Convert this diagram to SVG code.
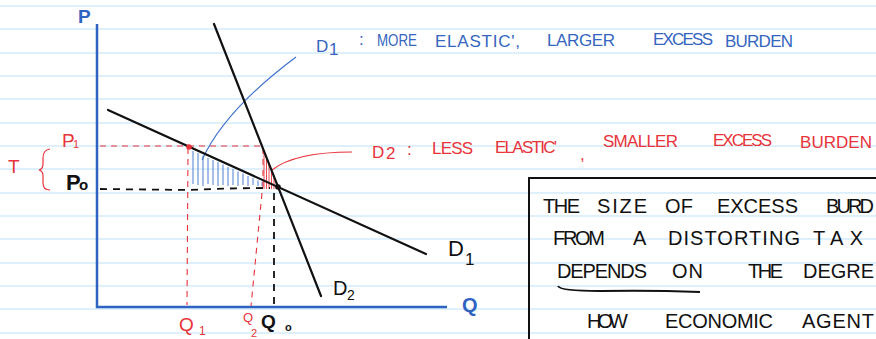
<svg xmlns="http://www.w3.org/2000/svg" width="876" height="339" viewBox="0 0 876 339">
<style>
.rule{stroke:#d3ecfa;stroke-width:1.5}
.axis{stroke:#2e63c2;stroke-width:2.5;fill:none}
.dem{stroke:#111;stroke-width:2.2;fill:none;stroke-linecap:round}
.rd{stroke:#e8333a;stroke-width:1.1;fill:none;stroke-dasharray:6 5}
.bd{stroke:#111;stroke-width:1.8;fill:none;stroke-dasharray:7 6}
.bh{stroke:#4a7fd0;stroke-width:1;fill:none}
.rh{stroke:#e8333a;stroke-width:0.9;fill:none}
.t{font-family:"Liberation Sans",Arial,sans-serif}
.blue{fill:#3565c0;font-size:17px}
.red{fill:#e8333a;font-size:17px}
.blk{fill:#111;font-size:20px}
</style>
<rect width="876" height="339" fill="#fff"/>
<g id="paper">
<path class="rule" d="M0,6H876M0,29H876M0,53H876M0,76H876M0,99H876M0,123H876M0,146H876M0,169H876M0,193H876M0,216H876M0,239H876M0,263H876M0,286H876M0,309H876M0,333H876"/>
</g>
<g id="axes">
<path class="axis" d="M97,24V307H447"/>
<text class="t" x="78" y="23" font-size="19" font-weight="bold" fill="#2e63c2">P</text>
<text class="t" x="462" y="312" font-size="20" font-weight="bold" fill="#2e63c2">Q</text>
</g>
<g id="hatching">
<path class="bh" d="M193,151V184M198,153V185M203,155.5V186M208,158V184M213,160V185M218,162V186M223,164.5V185M228,167V186M233,169V185M238,171.5V186M243,173.5V185M248,176V186M253,178V185M258,180.5V186M262,182V186"/>
<path class="rh" d="M264,151V189M266.5,157V189M269,163V189M271.5,170V189M274,176V189M276.5,182V189"/>
</g>
<g id="connectors">
<path class="rd" d="M100,146H263V190"/>
<path class="rd" d="M188,148L187,305" stroke-dasharray="7 7"/>
<path class="rd" d="M262,193L251,306" stroke-dasharray="2 3"/>
<path class="bd" d="M100,189L190,190Q230,188 270,188"/>
<path class="bd" d="M274,193V305"/>
<path d="M202,160Q225,110 296,57" stroke="#3a6fcc" stroke-width="1.1" fill="none"/>
<path d="M272,170Q295,152 352,152" stroke="#e8333a" stroke-width="1.1" fill="none"/>
</g>
<g id="D1"><path class="dem" d="M108,110L426,254"/></g>
<g id="D2"><path class="dem" d="M214,24L321,296"/></g>
<g id="points">
<circle cx="189" cy="147" r="2.8" fill="#e8333a"/>
<circle cx="278" cy="187" r="2.8" fill="#111"/>
</g>
<g id="labels">
<text class="t" x="62" y="147" font-size="19" fill="#e8333a">P</text>
<text class="t" x="73" y="148" font-size="11" fill="#e8333a">1</text>
<text class="t" x="8" y="173" font-size="19" fill="#e8333a">T</text>
<path d="M50,149Q43,150 43,158V164Q43,169 39,170Q43,171 43,176V183Q43,190 50,190" stroke="#e8333a" stroke-width="1.2" fill="none"/>
<text class="t" x="66" y="190" font-size="22" font-weight="bold" fill="#111">P</text>
<text class="t" x="79" y="190" font-size="15" font-weight="bold" fill="#111">o</text>
<text class="t" x="179" y="331" font-size="19" fill="#e8333a">Q</text>
<text class="t" x="199" y="335" font-size="12" fill="#e8333a">1</text>
<text class="t" x="243" y="322" font-size="13" fill="#e8333a">Q</text>
<text class="t" x="251" y="337" font-size="11" fill="#e8333a">2</text>
<text class="t" x="261" y="328" font-size="19" font-weight="bold" fill="#111">Q</text>
<text class="t" x="285" y="331" font-size="11" font-weight="bold" fill="#111">o</text>
<text class="t" x="448" y="256" font-size="22" fill="#111">D</text>
<text class="t" x="465" y="265" font-size="17" fill="#111">1</text>
<text class="t" x="333" y="295" font-size="20" fill="#111">D</text>
<text class="t" x="347" y="300" font-size="14" fill="#111">2</text>
</g>
<g id="note-D1">
<text class="t blue" x="316" y="52" font-size="20">D</text>
<text class="t blue" x="329" y="55" font-size="11">1</text>
<text class="t blue" x="359" y="45" font-size="15">:</text>
<text class="t blue" x="377" y="46" textLength="40" lengthAdjust="spacingAndGlyphs">MORE</text>
<text class="t blue" x="435" y="47" textLength="85" lengthAdjust="spacing">ELASTIC',</text>
<text class="t blue" x="547" y="46" textLength="68" lengthAdjust="spacing">LARGER</text>
<text class="t blue" x="653" y="45" textLength="60" lengthAdjust="spacing">EXCESS</text>
<text class="t blue" x="725" y="47" textLength="68" lengthAdjust="spacing">BURDEN</text>
</g>
<g id="note-D2">
<text class="t red" x="372" y="158" font-size="20">D</text>
<text class="t red" x="386" y="159" font-size="11">2</text>
<text class="t red" x="407" y="155" font-size="15">:</text>
<text class="t red" x="432" y="154" textLength="41" lengthAdjust="spacing">LESS</text>
<text class="t red" x="495" y="153" textLength="62" lengthAdjust="spacing">ELASTIC'</text>
<text class="t red" x="580" y="160" font-size="15">,</text>
<text class="t red" x="603" y="147" textLength="75" lengthAdjust="spacing">SMALLER</text>
<text class="t red" x="713" y="146" textLength="59" lengthAdjust="spacing">EXCESS</text>
<text class="t red" x="800" y="148" textLength="72" lengthAdjust="spacing">BURDEN</text>
</g>
<g id="textbox">
<path d="M878,178H529V341" stroke="#111" stroke-width="2" fill="none"/>
<text class="t blk" x="543" y="213" textLength="37" lengthAdjust="spacing">THE</text>
<text class="t blk" x="597" y="213" textLength="50" lengthAdjust="spacing">SIZE</text>
<text class="t blk" x="665" y="213" textLength="28" lengthAdjust="spacing">OF</text>
<text class="t blk" x="717" y="213" textLength="81" lengthAdjust="spacing">EXCESS</text>
<text class="t blk" x="826" y="213" textLength="48" lengthAdjust="spacing">BURD</text>
<text class="t blk" x="553" y="245" textLength="52" lengthAdjust="spacing">FROM</text>
<text class="t blk" x="633" y="245">A</text>
<text class="t blk" x="668" y="245" textLength="132" lengthAdjust="spacing">DISTORTING</text>
<text class="t blk" x="813" y="245" textLength="50" lengthAdjust="spacing">TAX</text>
<text class="t blk" x="557" y="278" textLength="90" lengthAdjust="spacing">DEPENDS</text>
<text class="t blk" x="672" y="278" textLength="31" lengthAdjust="spacing">ON</text>
<text class="t blk" x="748" y="278" textLength="35" lengthAdjust="spacing">THE</text>
<text class="t blk" x="803" y="278" textLength="71" lengthAdjust="spacing">DEGRE</text>
<path d="M558,286Q560,291 600,291Q650,290 700,292" stroke="#111" stroke-width="2" fill="none"/>
<text class="t blk" x="587" y="328" textLength="41" lengthAdjust="spacing">HOW</text>
<text class="t blk" x="665" y="328" textLength="108" lengthAdjust="spacing">ECONOMIC</text>
<text class="t blk" x="802" y="328" textLength="72" lengthAdjust="spacing">AGENT</text>
</g>
</svg>
